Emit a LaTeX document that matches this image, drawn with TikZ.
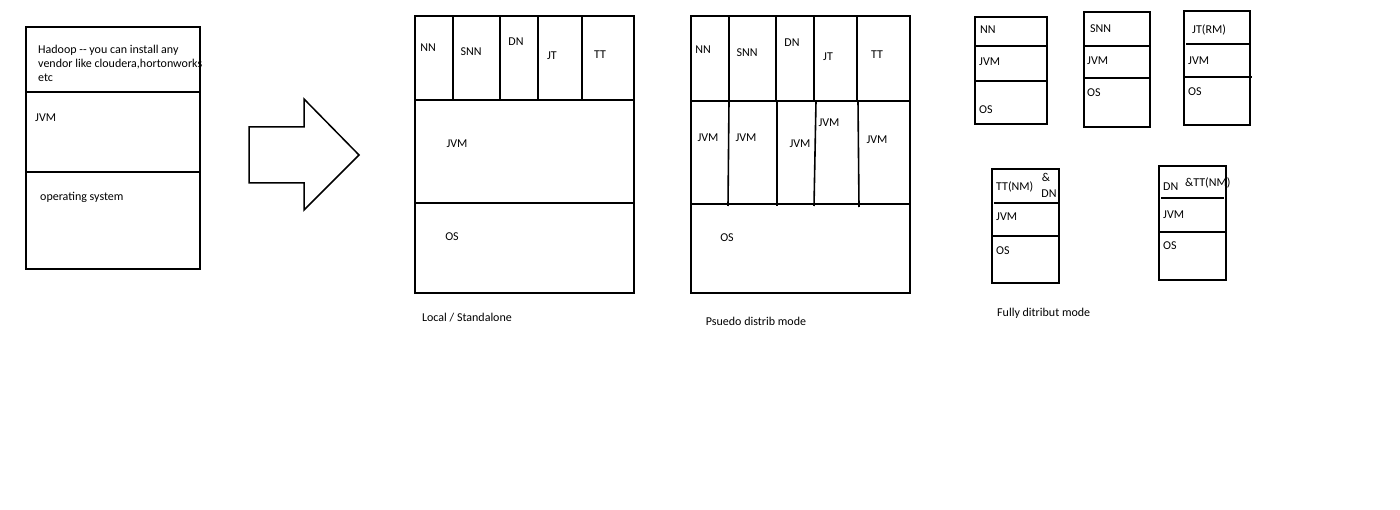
\documentclass[tikz,border=0pt]{standalone}
\usepackage{fontspec}
\setmainfont{Carlito}
\begin{document}
\begin{tikzpicture}[x=1pt,y=-1pt,
  box/.style={draw=black,line width=1.8pt},
  sep/.style={draw=black,line width=1.6pt},
  lbl/.style={inner sep=0pt,font=\fontsize{12}{14}\selectfont},
  lw/.style={lbl,anchor=mid west},
  lc/.style={lbl,anchor=mid}]
\useasboundingbox[fill=white] (0,0) rectangle (1400,510);

% ---------- Box 1 ----------
\draw[box] (26,27) rectangle (200,269);
\draw[sep] (26,92) -- (200,92);
\draw[sep] (26,172) -- (200,172);
\node[lbl,anchor=north west,align=left] (hadoop) at (38,44.5)
  {Hadoop {-}{-} you can install any\\vendor like cloudera,hortonworks\\etc};
\node[lw] (jvm1) at (35,119) {JVM};
\node[lw] (os1) at (40,198) {operating system};

% ---------- Block arrow ----------
\draw[line width=1.5pt,line join=miter] (249,127) -- (304,127) -- (304,99) -- (359,155)
  -- (304,210) -- (304,183) -- (249,183) -- cycle;

% ---------- Local / Standalone ----------
\draw[box] (415,16) rectangle (634,293);
\draw[sep] (415,100) -- (634,100);
\draw[sep] (415,203) -- (634,203);
\foreach \x in {453,500,538,582} \draw[sep] (\x,16) -- (\x,100);
\node[lc] (lnn) at (428,49) {NN};
\node[lc] (lsnn) at (471,53) {SNN};
\node[lc] (ldn) at (516,43) {DN};
\node[lc] (ljt) at (552,57) {JT};
\node[lc] (ltt) at (600,56) {TT};
\node[lc] (ljvm) at (457,145) {JVM};
\node[lc] (los) at (452,238) {OS};
\node[lc] (lcap) at (467,319) {Local / Standalone};

% ---------- Pseudo distributed ----------
\draw[box] (691,16) rectangle (910,293);
\draw[sep] (691,101) -- (910,101);
\draw[sep] (691,204) -- (910,204);
\draw[sep] (729,16) -- (729,101);
\draw[sep] (776,16) -- (776,101);
\draw[sep] (814,16) -- (814,101);
\draw[sep] (857,16) -- (857,101);
\draw[sep] (729,101) -- (728,206);
\draw[sep] (777,101) -- (777,206);
\draw[sep] (816,101) -- (814,206);
\draw[sep] (858,101) -- (859,207);
\node[lc] (pnn) at (703,51) {NN};
\node[lc] (psnn) at (747,54) {SNN};
\node[lc] (pdn) at (792,44) {DN};
\node[lc] (pjt) at (828,58) {JT};
\node[lc] (ptt) at (877,56) {TT};
\node[lc] (pjvm1) at (708,139) {JVM};
\node[lc] (pjvm2) at (746,139) {JVM};
\node[lc] (pjvm3) at (800,145) {JVM};
\node[lc] (pjvm4) at (829,124) {JVM};
\node[lc] (pjvm5) at (877,141) {JVM};
\node[lc] (pos) at (727,239) {OS};
\node[lc] (pcap) at (756,323) {Psuedo distrib mode};

% ---------- Fully distributed ----------
% NN
\draw[box] (975,17) rectangle (1047,124);
\draw[sep] (975,46) -- (1048,46);
\draw[sep] (975,81) -- (1047,81);
\node[lw] (fnn) at (980,31) {NN};
\node[lw] (fnnjvm) at (979,63) {JVM};
\node[lw] (fnnos) at (979,111) {OS};
% SNN
\draw[box] (1084,12) rectangle (1150,127);
\draw[sep] (1084,46) -- (1150,46);
\draw[sep] (1084,78) -- (1151,78);
\node[lw] (fsnn) at (1090,30) {SNN};
\node[lw] (fsnnjvm) at (1087,62) {JVM};
\node[lw] (fsnnos) at (1087,94) {OS};
% JT
\draw[box] (1184,11) rectangle (1250,125);
\draw[sep] (1186,44) -- (1250,44);
\draw[sep] (1184,77) -- (1252,77);
\node[lw] (fjt) at (1192,31) {JT(RM)};
\node[lw] (fjtjvm) at (1188,62) {JVM};
\node[lw] (fjtos) at (1188,93) {OS};
% TT & DN
\draw[box] (992,169) rectangle (1059,283);
\draw[sep] (994,203) -- (1058,203);
\draw[sep] (992,236) -- (1060,236);
\node[lw] (ftt) at (996,188) {TT(NM)};
\node[lc] (famp1) at (1046,179) {\&};
\node[lc] (fdn1) at (1049,195) {DN};
\node[lw] (fttjvm) at (996,218) {JVM};
\node[lw] (fttos) at (996,252) {OS};
% DN & TT
\draw[box] (1159,166) rectangle (1226,280);
\draw[sep] (1161,198) -- (1224,198);
\draw[sep] (1159,232) -- (1227,232);
\node[lw] (fdn2) at (1163,188) {DN};
\node[lw] (ftt2) at (1185,184) {\&TT(NM)};
\node[lw] (fdnjvm) at (1163,216) {JVM};
\node[lw] (fdnos) at (1163,247) {OS};
\node[lw] (fcap) at (997,314) {Fully ditribut mode};
\end{tikzpicture}
\end{document}
